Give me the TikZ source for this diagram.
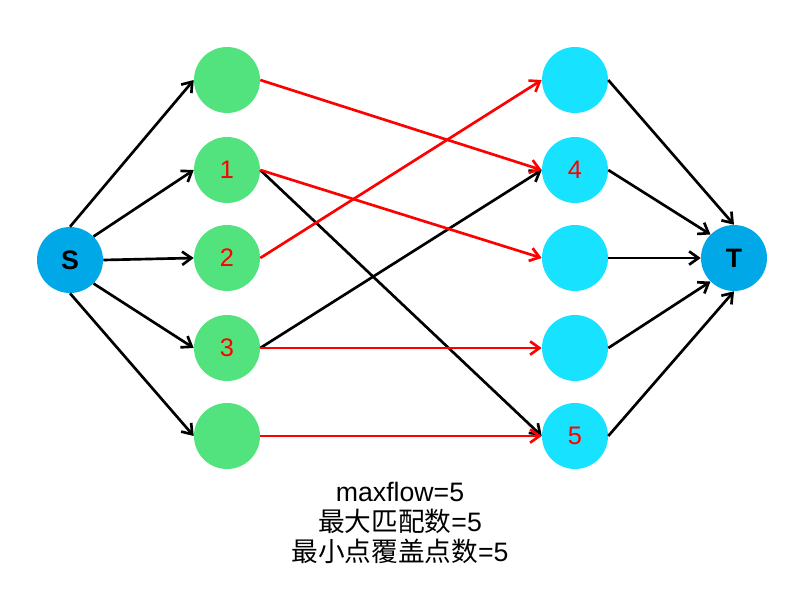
\documentclass[tikz,border=0pt]{standalone}
\usepackage{fontspec}
\setmainfont{Liberation Sans}
\newfontfamily\cjkfont{Noto Sans CJK SC}
\usetikzlibrary{arrows.meta}
\definecolor{gnode}{HTML}{52E37F}
\definecolor{cnode}{HTML}{17E2FF}
\definecolor{bnode}{HTML}{00A8E8}
\begin{document}
\begin{tikzpicture}[x=0.75pt,y=-0.75pt,
  vtx/.style={circle,inner sep=0pt,minimum size=49.5pt,font=\fontsize{19pt}{21pt}\selectfont,text=red},
  lnode/.style={vtx,fill=gnode},
  rnode/.style={vtx,fill=cnode},
  endnode/.style={vtx,fill=bnode,text=black,font=\fontsize{20pt}{22pt}\selectfont\bfseries},
  edge/.style={line width=2pt,-{Straight Barb[length=7pt,width=10pt,line width=2pt]}},
  blk/.style={edge,black},
  rd/.style={edge,red}]
\path[use as bounding box] (0,0) rectangle (799,601);
\node[endnode] (S) at (70,260) {S};
\node[endnode] (T) at (734,258) {T};
\node[lnode] (l0) at (227,80) {};
\node[lnode] (l1) at (227,170) {1};
\node[lnode] (l2) at (227,258) {2};
\node[lnode] (l3) at (227,348) {3};
\node[lnode] (l4) at (227,436) {};
\node[rnode] (r0) at (575,80) {};
\node[rnode] (r1) at (575,170) {4};
\node[rnode] (r2) at (575,258) {};
\node[rnode] (r3) at (575,348) {};
\node[rnode] (r4) at (575,436) {5};
% S to left
\draw[blk] (S.north) -- (l0.west);
\draw[blk] (S.north east) -- (l1.west);
\draw[blk] (S.east) -- (l2.west);
\draw[blk] (S.south east) -- (l3.west);
\draw[blk] (S.south) -- (l4.west);
% left to right
\draw[blk] (l1.east) -- (r4.west);
\draw[blk] (l3.east) -- (r1.west);
\draw[rd] (l0.east) -- (r1.west);
\draw[rd] (l1.east) -- (r2.west);
\draw[rd] (l2.east) -- (r0.west);
\draw[rd] (l3.east) -- (r3.west);
\draw[rd] (l4.east) -- (r4.west);
% right to T
\draw[blk] (r0.east) -- (T.north);
\draw[blk] (r1.east) -- (T.north west);
\draw[blk] (r2.east) -- (T.west);
\draw[blk] (r3.east) -- (T.south west);
\draw[blk] (r4.east) -- (T.south);
% caption
\node[align=center,font=\fontsize{20pt}{22.5pt}\selectfont] (cap) at (400,523)
  {maxflow=5\\{\cjkfont 最大匹配数}=5\\{\cjkfont 最小点覆盖点数}=5};
\end{tikzpicture}
\end{document}
